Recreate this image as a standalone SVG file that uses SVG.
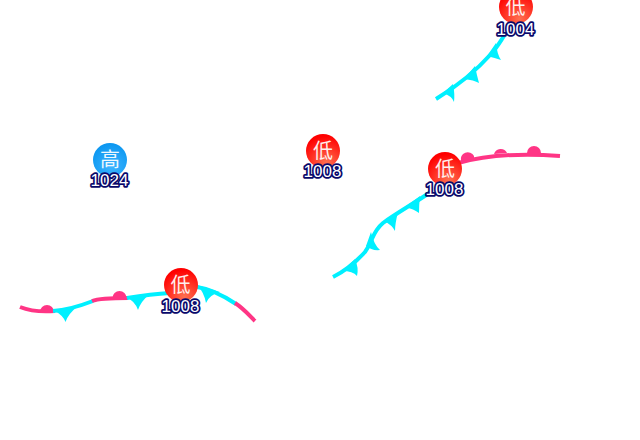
<svg xmlns="http://www.w3.org/2000/svg" width="640" height="440" viewBox="0 0 640 440">
<style>
.cold{fill:none;stroke:#00f0ff;stroke-width:4}
.warm{fill:none;stroke:#ff3585;stroke-width:4}
.barb{fill:#00f0ff}
.bump{fill:#ff3585}
.sym{font:20px "Noto Sans CJK SC","Liberation Sans",sans-serif;fill:#fff;text-anchor:middle;opacity:.92}
.val{font:17px "Liberation Sans",Arial,sans-serif;fill:#fff;stroke:#08086a;stroke-width:3.500;paint-order:stroke;stroke-linejoin:round;text-anchor:middle}
</style>
<defs>
<radialGradient id="low" cx="60%" cy="85%" r="80%"><stop offset="0" stop-color="#ff7050"/><stop offset="1" stop-color="#ff0000"/></radialGradient>
<radialGradient id="high" cx="55%" cy="70%" r="70%"><stop offset="0" stop-color="#3db4ff"/><stop offset="1" stop-color="#0a96f0"/></radialGradient>
</defs>
<g id="connectors">
<path class="warm" d="M20,307C30,311 42,312 55,311"/>
<path class="bump" d="M40,312a7,7 0 0 1 14,0z"/>
<path class="cold" d="M53,311C68,310 80,306 93,301"/>
<path class="barb" d="M53,310Q63,315 65.500,322Q68,314 78,306z"/>
<path class="warm" d="M92,301C100,298 113,298 128,298"/>
<path class="bump" d="M112.500,298a7,7 0 0 1 14,0z"/>
<path class="cold" d="M127,298C140,296 155,294 170,293"/>
<path class="barb" d="M126,297Q135,301 138,310Q141,301 150,294z"/>
<path class="cold" d="M197,287C212,289 224,296 236,304"/>
<path class="barb" d="M197,285Q204,292 206,303Q209,295 220,292z"/>
<path class="warm" d="M235,303C243,308 249,315 255,321"/>
<path class="cold" d="M333,277C345,271 355,263 365,252C373,241 372,232 383,223C398,212 415,203 432,191"/>
<path class="barb" d="M342,271Q353,271 357,276Q359,268 355,259z"/>
<path class="barb" d="M366,246Q372,251 380,250Q374,245 371,232z"/>
<path class="barb" d="M384,221Q392,225 395,231Q395,224 398,212z"/>
<path class="barb" d="M405,207Q414,209 419,213Q419,205 420,196z"/>
<path class="warm" d="M458,163C480,157 510,152 560,156"/>
<path class="bump" d="M461,161a7,7 0 0 1 13,-5l0,3z"/>
<path class="bump" d="M494,154a7,7 0 0 1 13,-1z"/>
<path class="bump" d="M527,153a7,7 0 0 1 14,0z"/>
<path class="cold" d="M436,99C456,87 475,72 492,53C497,47 500,42 504,36"/>
<path class="barb" d="M443,93Q452,96 454,102Q455,94 453,84z"/>
<path class="barb" d="M464,79Q474,80 479,83Q477,76 475,66z"/>
<path class="barb" d="M487,56Q495,58 501,60Q497,54 496,43z"/>
</g>
<g id="low-1"><circle cx="181" cy="285" r="17" fill="url(#low)"/><text class="sym" x="180.500" y="292">低</text><text class="val" x="180.500" y="311.500">1008</text></g>
<g id="low-2"><circle cx="445" cy="169" r="17" fill="url(#low)"/><text class="sym" x="445" y="176">低</text><text class="val" x="444.500" y="195">1008</text></g>
<g id="low-3"><circle cx="323" cy="151" r="17" fill="url(#low)"/><text class="sym" x="323" y="158">低</text><text class="val" x="322.500" y="177">1008</text></g>
<g id="low-4"><circle cx="516" cy="7" r="17" fill="url(#low)"/><text class="sym" x="515.500" y="14">低</text><text class="val" x="515.500" y="34.500">1004</text></g>
<g id="high-1"><circle cx="110" cy="160" r="17" fill="url(#high)"/><text class="sym" x="110" y="167">高</text><text class="val" x="109.500" y="186">1024</text></g>
</svg>
